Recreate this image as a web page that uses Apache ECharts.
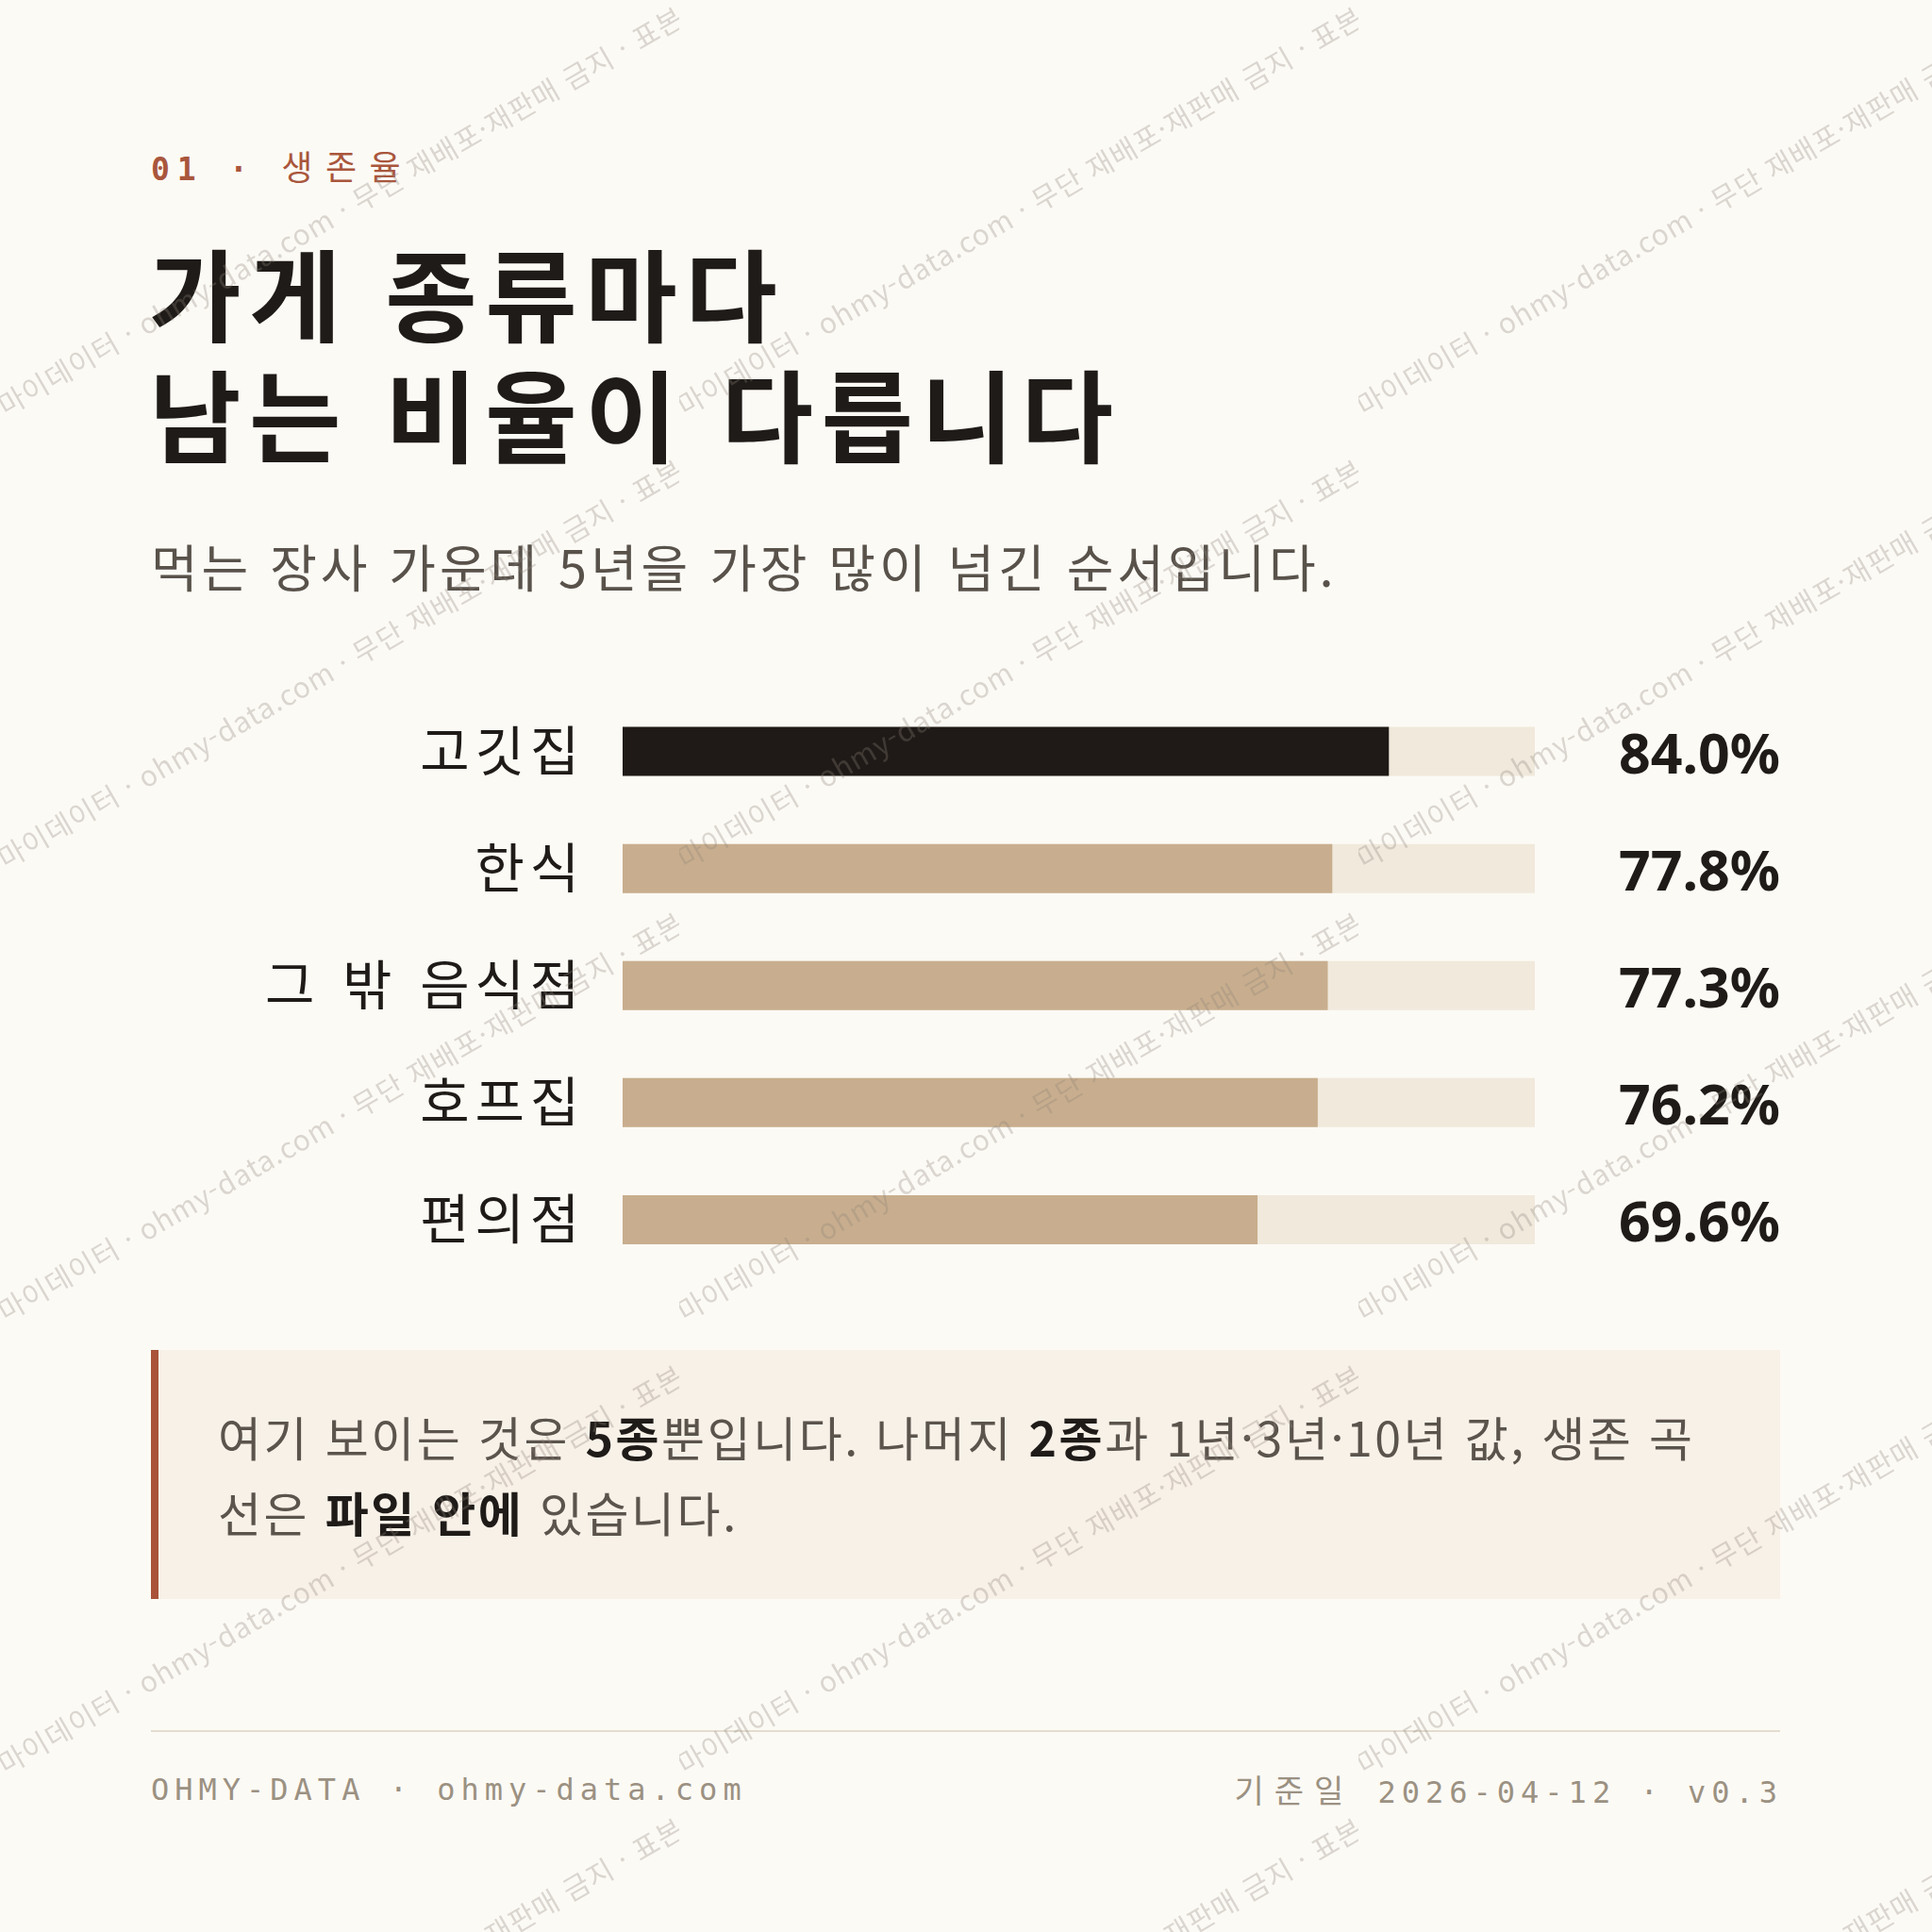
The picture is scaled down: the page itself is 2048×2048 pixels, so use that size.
<!DOCTYPE html>
<html lang="ko">
<head>
<meta charset="utf-8">
<title>가게 종류마다 남는 비율이 다릅니다</title>
<script src="https://cdn.jsdelivr.net/npm/echarts/dist/echarts.min.js"></script>
<style>
  html, body { margin: 0; padding: 0; }
  body {
    width: 2048px; height: 2048px; position: relative; overflow: hidden;
    background: #fcfaf5;
    font-family: "Noto Sans CJK KR", "Noto Sans", sans-serif;
  }
  .abs { position: absolute; white-space: nowrap; }
  .kicker { left: 160px; top: 155px; line-height: 40px; color: #a9563c; }
  .kicker .num { font-family: "DejaVu Sans Mono", monospace; font-weight: bold; font-size: 33px; letter-spacing: 7.8px; }
  .kicker .ko { font-size: 36px; letter-spacing: 13.5px; }
  .title { left: 158px; top: 244px; font-size: 106px; line-height: 128px; font-weight: 700; color: #1f1b18; letter-spacing: 8.5px; }
  .sub { left: 160px; top: 565px; font-size: 54px; line-height: 70px; color: #58524b; letter-spacing: 3.9px; }
  #chart { position: absolute; left: 0; top: 0; width: 2048px; height: 2048px; }
  /* 오른쪽 정렬 라벨(카테고리)만 자간 보정 */
  #chart svg text[text-anchor="end"] { letter-spacing: 5.8px; }
  .note {
    left: 160px; top: 1431px; width: 1719px; height: 264px;
    background: #f8f1e8; border-left: 8px solid #a8533a;
  }
  .note p { margin: 0; padding: 51px 0 0 63px; font-size: 50px; line-height: 80px; color: #5b544d; letter-spacing: 2.55px; }
  .note b { color: #1f1b18; font-weight: 700; }
  .rule { left: 160px; top: 1834px; width: 1727px; height: 2px; background: #e3dccf; }
  .foot { top: 1877px; line-height: 40px; color: #9b9182; font-family: "DejaVu Sans Mono", monospace; font-size: 32px; letter-spacing: 6px; }
  .foot .ko { font-family: "Noto Sans CJK KR", sans-serif; font-size: 34px; letter-spacing: 11px; }
  .foot.left { left: 160px; }
  .foot.right { right: 158px; }
  #wm { position: absolute; left: 0; top: 0; pointer-events: none; }
</style>
</head>
<body>
<div class="abs kicker"><span class="num">01 · </span><span class="ko">생존율</span></div>
<div class="abs title">가게 종류마다<br>남는 비율이 다릅니다</div>
<div class="abs sub">먹는 장사 가운데 5년을 가장 많이 넘긴 순서입니다.</div>

<div id="chart"></div>

<div class="abs note"><p>여기 보이는 것은 <b>5종</b>뿐입니다. 나머지 <b>2종</b>과 1년·3년·10년 값, 생존 곡<br>선은 <b>파일 안에</b> 있습니다.</p></div>
<div class="abs rule"></div>
<div class="abs foot left">OHMY-DATA · ohmy-data.com</div>
<div class="abs foot right"><span class="ko">기준일</span> 2026-04-12 · v0.3</div>

<svg id="wm" width="2048" height="2048" xmlns="http://www.w3.org/2000/svg">
  <defs>
    <pattern id="wmTile" width="720" height="480" patternUnits="userSpaceOnUse">
      <text x="6" y="442" transform="rotate(-30 6 442)" font-family="Noto Sans CJK KR, Noto Sans" font-size="30" letter-spacing="1" fill="rgb(140,130,120)" fill-opacity="0.3">마이데이터 · ohmy-data.com · 무단 재배포·재판매 금지 · 표본 데이터</text>
    </pattern>
  </defs>
  <rect width="2048" height="2048" fill="url(#wmTile)"/>
</svg>

<script>
// 5년 생존율 (%)
var categories = ['고깃집', '한식', '그 밖 음식점', '호프집', '편의점'];
var survival5y = [84.0, 77.8, 77.3, 76.2, 69.6];
var axisMax = 100;

var myChart = echarts.init(document.getElementById('chart'), null, { renderer: 'svg' });

var option = {
    animation: false,
    grid: { left: 660, width: 967, top: 734.5, height: 620.5, containLabel: false },
    xAxis: {
        type: 'value',
        min: 0,
        max: axisMax,
        show: false
    },
    yAxis: {
        type: 'category',
        data: categories,
        inverse: true,
        axisLine: { show: false },
        axisTick: { show: false },
        splitLine: { show: false },
        axisLabel: {
            margin: 40,
            fontSize: 57,
            color: '#1f1b18',
            fontFamily: 'DejaVu Sans, Noto Sans CJK KR',
            padding: [24, 0, 0, 0]
        }
    },
    series: [{
        // 바탕 트랙 + 값 라벨
        type: 'bar',
        silent: true,
        barWidth: 52,
        data: categories.map(function () { return axisMax; }),
        itemStyle: { color: '#f0e9dc' },
        label: {
            show: true,
            position: 'right',
            distance: 89,
            fontSize: 59,
            fontWeight: 'bold',
            fontFamily: 'Noto Sans',
            color: '#1f1b18',
            padding: [16, 0, 0, 0],
            formatter: function (p) {
                return survival5y[p.dataIndex].toFixed(1) + '%';
            }
        },
        z: 1
    }, {
        type: 'bar',
        silent: true,
        barWidth: 52,
        barGap: '-100%',
        data: survival5y,
        itemStyle: {
            color: function (p) {
                return p.dataIndex === 0 ? '#1f1a17' : '#c8ae8e';
            }
        },
        z: 2
    }]
};

myChart.setOption(option);
</script>
</body>
</html>
